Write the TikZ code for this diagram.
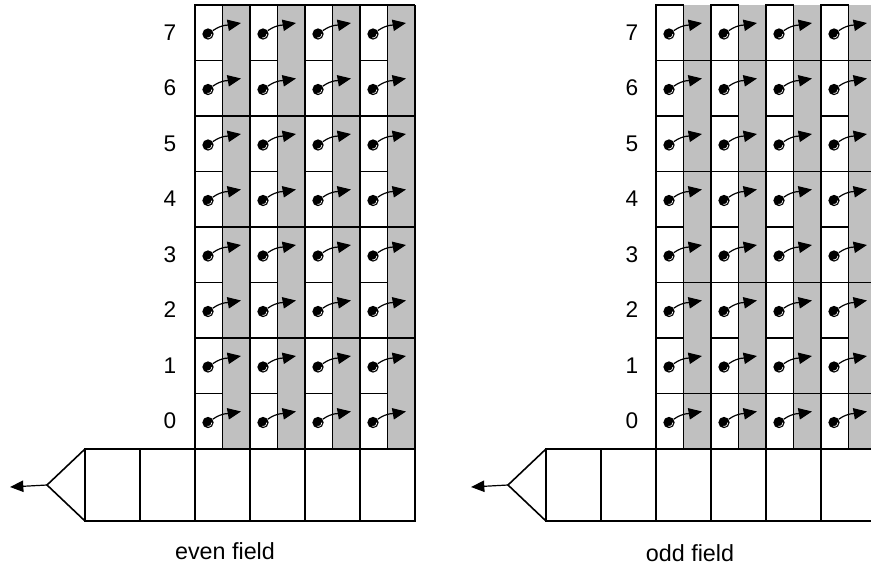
\documentclass[tikz,border=0pt]{standalone}
\usepackage{fontspec}
\setmainfont{Liberation Sans}
\usetikzlibrary{positioning,arrows.meta}

\definecolor{stripgray}{RGB}{192,192,192}
\tikzset{
  cell/.style={draw, line width=1.2pt},
  strip/.style={fill=stripgray},
  ball/.style={circle, fill=black, minimum size=8.5pt, inner sep=0pt,
    path picture={\draw[white, line width=0.5pt]
      ([shift={(-100:2.9pt)}]path picture bounding box.center)
      arc[start angle=-100, end angle=0, radius=2.9pt];}},
  mv/.style={line width=0.9pt, -{Triangle[length=10pt,width=8.5pt]}},
  num/.style={font=\fontsize{17}{20}\selectfont},
  caption/.style={font=\fontsize{17.5}{21}\selectfont}
}

\begin{document}
\begin{tikzpicture}[x=0.75pt,y=-0.75pt]
  \useasboundingbox (0,0) rectangle (871,565);

  % even field: cells and charges
  \foreach \c in {0,...,3} {
    \fill[strip] (222.5+55*\c,5) rectangle ++(27.5,444);
    \foreach \r in {0,...,7} {
      \draw[cell] (195+55*\c,5+55.5*\r) rectangle ++(27.5,55.5);
      \node[ball] (e\c\r) at (208+55*\c,34+55.5*\r) {};
      \coordinate (et\c\r) at (241+55*\c,23+55.5*\r);
      \draw[mv] (e\c\r) to[out=35,in=190] (et\c\r);
    }
  }
  \foreach \p in {0,...,4}
    \draw[cell] (195,5+111*\p) -- (415,5+111*\p);
  \draw[cell] (415,5) -- (415,449);
  \foreach \n in {0,...,7}
    \node[num] (el\n) at (170,421-55.5*\n) {\n};

  % even field: output register
  \foreach \k in {0,...,5}
    \draw[cell] (85+55*\k,449) rectangle ++(55,72);
  \draw[cell] (85,449) -- (47,485) coordinate (etip) -- (85,521);
  \coordinate (eout) at (10,487);
  \draw[mv] (etip) -- (eout);
  \node[caption] (even) at (225,551) {even field};

  % odd field: cells and charges
  \foreach \c in {0,...,3} {
    \fill[strip] (683.5+55*\c,5) rectangle ++(27.5,444);
    \foreach \r in {0,...,7} {
      \draw[cell] (656+55*\c,5+55.5*\r) rectangle ++(27.5,55.5);
      \node[ball] (o\c\r) at (669+55*\c,34+55.5*\r) {};
      \coordinate (ot\c\r) at (702+55*\c,23+55.5*\r);
      \draw[mv] (o\c\r) to[out=35,in=190] (ot\c\r);
    }
  }
  \foreach \p in {0,...,3}
    \draw[cell] (656,60.5+111*\p) -- (876,60.5+111*\p);
  \foreach \n in {0,...,7}
    \node[num] (ol\n) at (632,421-55.5*\n) {\n};

  % odd field: output register
  \foreach \k in {0,...,5}
    \draw[cell] (546+55*\k,449) rectangle ++(55,72);
  \draw[cell] (546,449) -- (508,485) coordinate (otip) -- (546,521);
  \coordinate (oout) at (471,487);
  \draw[mv] (otip) -- (oout);
  \node[caption] (odd) at (690,553) {odd field};
\end{tikzpicture}
\end{document}
